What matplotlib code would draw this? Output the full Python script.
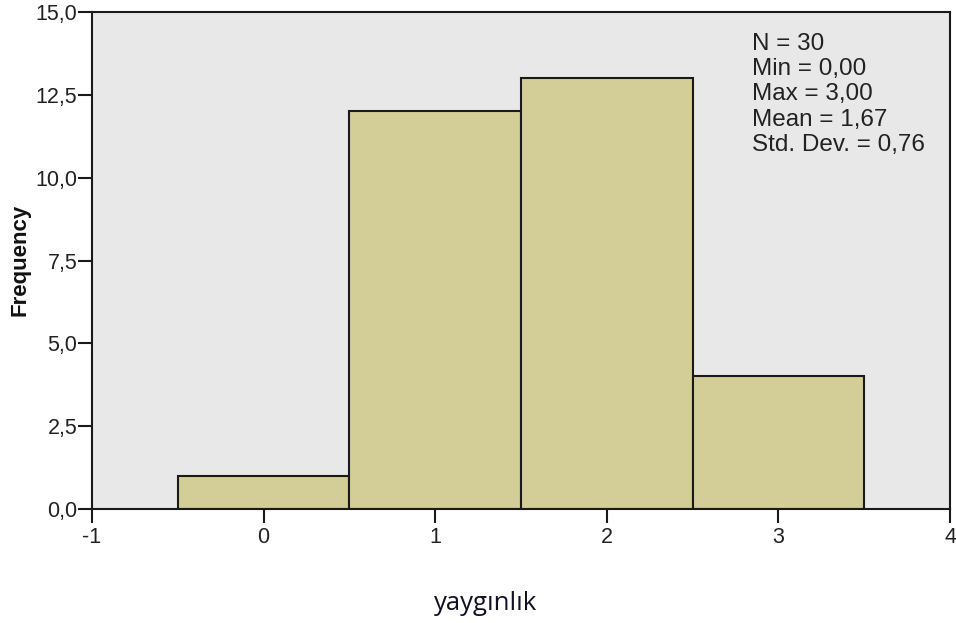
import matplotlib
matplotlib.use("Agg")
import matplotlib.pyplot as plt
from matplotlib.ticker import FuncFormatter

bin_edges = [-0.5, 0.5, 1.5, 2.5, 3.5]
frequencies = [1, 12, 13, 4]
x_ticks = [-1, 0, 1, 2, 3, 4]
y_ticks = [0, 2.5, 5, 7.5, 10, 12.5, 15]
stats_lines = ["N = 30", "Min = 0,00", "Max = 3,00", "Mean = 1,67", "Std. Dev. = 0,76"]
x_label = "yaygınlık"
y_label = "Frequency"

fig = plt.figure(figsize=(9.56, 6.23), dpi=100)
ax = fig.add_axes([92/956, 1-509/623, (950-92)/956, (509-12)/623])
ax.set_facecolor("#e8e8e8")

lefts = bin_edges[:-1]
widths = [bin_edges[i+1]-bin_edges[i] for i in range(len(frequencies))]
ax.bar(lefts, frequencies, width=widths, align="edge", color="#d3ce97",
       edgecolor="#1a1a1a", linewidth=1.5)

ax.set_xlim(-1, 4)
ax.set_ylim(0, 15)
ax.set_xticks(x_ticks)
ax.set_yticks(y_ticks)
ax.yaxis.set_major_formatter(FuncFormatter(lambda v, p: f"{v:.1f}".replace(".", ",")))
ax.xaxis.set_major_formatter(FuncFormatter(lambda v, p: f"{int(v)}"))

for s in ax.spines.values():
    s.set_color("#1a1a1a")
    s.set_linewidth(1.5)
ax.tick_params(direction="out", length=10, width=1.5, color="#1a1a1a",
               labelsize=15.5, labelcolor="#222222")
ax.tick_params(axis="y", pad=0.5)
ax.tick_params(axis="x", pad=3)
for lab in ax.get_xticklabels() + ax.get_yticklabels():
    lab.set_fontfamily("Liberation Sans")

fig.text(20/956, 1-260/623, y_label, rotation=90, ha="center", va="center",
         fontsize=16, fontweight="bold", family="Liberation Sans", color="#111111")
fig.text(486/956, 1-603/623, x_label, ha="center", va="center",
         fontsize=18.5, family="Open Sans", color="#111122")

ax.text(752/956, 1-32.5/623, "\n".join(stats_lines), transform=fig.transFigure,
        ha="left", va="top", fontsize=17.5, family="Liberation Sans",
        color="#222222", linespacing=1.2)

fig.savefig("out.png", dpi=100)
